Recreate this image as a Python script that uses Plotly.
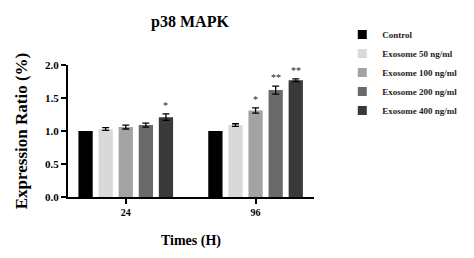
import plotly.graph_objects as go

times = ["24", "96"]
groups = ["Control", "Exosome 50 ng/ml", "Exosome 100 ng/ml", "Exosome 200 ng/ml", "Exosome 400 ng/ml"]
values = {
    "Control": [1.00, 1.00],
    "Exosome 50 ng/ml": [1.03, 1.09],
    "Exosome 100 ng/ml": [1.06, 1.31],
    "Exosome 200 ng/ml": [1.09, 1.62],
    "Exosome 400 ng/ml": [1.21, 1.77],
}
errors = {
    "Control": [0.0, 0.0],
    "Exosome 50 ng/ml": [0.02, 0.02],
    "Exosome 100 ng/ml": [0.03, 0.04],
    "Exosome 200 ng/ml": [0.03, 0.06],
    "Exosome 400 ng/ml": [0.05, 0.02],
}
stars = {
    "Control": ["", ""],
    "Exosome 50 ng/ml": ["", ""],
    "Exosome 100 ng/ml": ["", "*"],
    "Exosome 200 ng/ml": ["", "**"],
    "Exosome 400 ng/ml": ["*", "**"],
}
colors = ["#000000", "#d9d9d9", "#a3a3a3", "#6a6a6a", "#393939"]

FONT = "Liberation Serif"
bargap = 0.226
slot = (1 - bargap) / len(groups)

fig = go.Figure()
for i, g in enumerate(groups):
    fig.add_trace(go.Bar(
        name=g, x=times, y=values[g],
        marker=dict(color=colors[i], line=dict(width=0)),
        error_y=dict(type="data", array=errors[g], visible=any(e > 0 for e in errors[g]),
                     color="#000000", thickness=1.3, width=3.5),
        showlegend=False,
    ))
# legend entries with small square symbols
for i, g in enumerate(groups):
    fig.add_trace(go.Scatter(
        name=f"<b>{g}</b>", x=[None], y=[None], mode="markers",
        marker=dict(symbol="square", size=9, color=colors[i]),
        showlegend=True,
    ))

annotations = []
for i, g in enumerate(groups):
    for j, t in enumerate(times):
        if stars[g][j]:
            annotations.append(dict(
                x=j + (i - (len(groups) - 1) / 2) * slot,
                y=values[g][j] + errors[g][j],
                xref="x", yref="y", text=stars[g][j], showarrow=False,
                yanchor="bottom", yshift=1,
                font=dict(family=FONT, size=10, color="#222222"),
            ))

fig.update_layout(
    width=474, height=258,
    margin=dict(l=68, r=146, t=65, b=56),
    paper_bgcolor="white", plot_bgcolor="white",
    barmode="group", bargap=bargap, bargroupgap=0.29,
    font=dict(family=FONT, color="#000000"),
    title=dict(text="<b>p38 MAPK</b>", x=190 / 474, xanchor="center", y=1 - 21 / 258, yanchor="middle",
               font=dict(family=FONT, size=16, color="#000000")),
    xaxis=dict(
        type="category", range=[-0.445, 1.45],
        showline=True, linecolor="#000000", linewidth=2,
        ticks="outside", ticklen=5, tickwidth=2, tickcolor="#000000",
        tickfont=dict(family=FONT, size=10, color="#000000"),
        tickprefix="<b>", ticksuffix="</b>",
        title=dict(text="<b>Times (H)</b>", font=dict(family=FONT, size=14), standoff=18),
        showgrid=False, zeroline=False,
    ),
    yaxis=dict(
        range=[0, 2.0], tickvals=[0, 0.5, 1.0, 1.5, 2.0],
        ticktext=["<b>0.0</b>", "<b>0.5</b>", "<b>1.0</b>", "<b>1.5</b>", "<b>2.0</b>"],
        showline=True, linecolor="#000000", linewidth=2,
        ticks="outside", ticklen=5, tickwidth=2, tickcolor="#000000",
        tickfont=dict(family=FONT, size=11, color="#000000"),
        title=dict(text="<b>Expression Ratio (%)</b>", font=dict(family=FONT, size=17), standoff=13),
        showgrid=False, zeroline=False,
    ),
    legend=dict(
        x=1.115, y=1.34, xanchor="left", yanchor="top",
        font=dict(family=FONT, size=9, color="#222222"),
        itemwidth=30,
        bgcolor="rgba(0,0,0,0)",
    ),
    annotations=annotations,
)

fig.write_html("out.html")
